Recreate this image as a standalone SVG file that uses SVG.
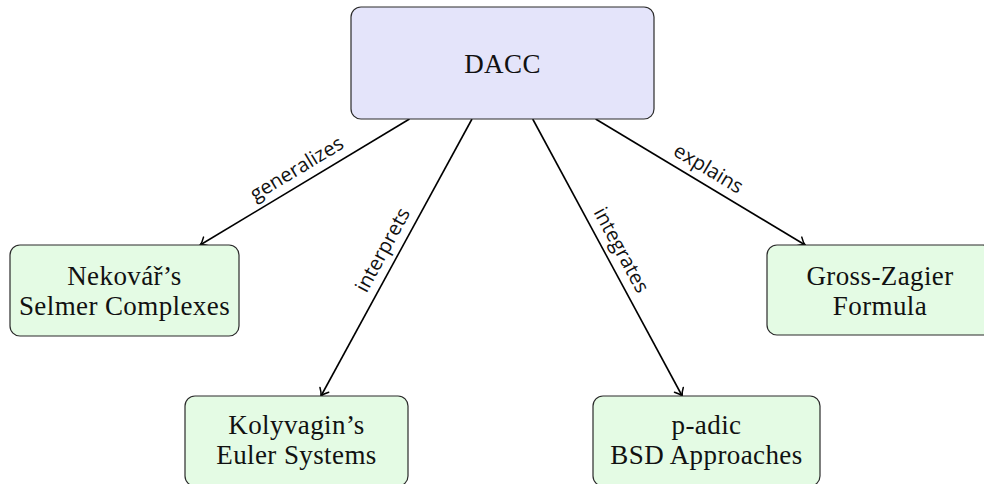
<svg xmlns="http://www.w3.org/2000/svg" width="984" height="484" viewBox="0 0 984 484">
<style>
.box{stroke:#2b2b2b;stroke-width:1.2}
.main{fill:#e4e4fa}
.leaf{fill:#e4fbe4}
.nt{font-family:"Liberation Serif","Times New Roman",serif;font-size:27px;letter-spacing:0.4px;fill:#111;text-anchor:middle}
.edge{stroke:#000;stroke-width:1.6;fill:none;marker-end:url(#arr)}
.lbl{font-family:"Open Sans","Noto Sans",sans-serif;font-size:20px;fill:#111;text-anchor:middle}
</style>
<defs>
<marker id="arr" markerUnits="userSpaceOnUse" markerWidth="20" markerHeight="20" refX="0" refY="0" viewBox="-10 -10 20 20" orient="auto">
<path d="M -7,-5 Q -3,-1 0,0 Q -3,1 -7,5" fill="none" stroke="#000" stroke-width="1.5" stroke-linecap="round"/>
</marker>
</defs>
<g id="edges">
<line class="edge" x1="409.5" y1="119" x2="200.1" y2="245"/>
<line class="edge" x1="472" y1="119" x2="321" y2="396"/>
<line class="edge" x1="532.7" y1="119" x2="682.2" y2="396"/>
<line class="edge" x1="595.6" y1="119" x2="805.2" y2="245"/>
<text class="lbl" transform="translate(304.8,182) rotate(-31.04)" x="0" y="-9">generalizes</text>
<text class="lbl" transform="translate(396.5,257.5) rotate(-61.4)" x="0" y="-9">interprets</text>
<text class="lbl" transform="translate(607.5,257.5) rotate(61.6)" x="0" y="-9">integrates</text>
<text class="lbl" transform="translate(700.4,182) rotate(31.0)" x="0" y="-9">explains</text>
</g>
<g id="dacc">
<rect class="box main" x="351" y="7" width="303" height="112" rx="10"/>
<text class="nt" x="502.5" y="72.5">DACC</text>
</g>
<g id="nekovar">
<rect class="box leaf" x="10" y="245" width="229" height="91" rx="10"/>
<text class="nt" x="124.5" y="285">Nekovář’s</text>
<text class="nt" x="124.5" y="315">Selmer Complexes</text>
</g>
<g id="gross-zagier">
<rect class="box leaf" x="767" y="245" width="226" height="90" rx="10"/>
<text class="nt" x="880" y="284.5">Gross-Zagier</text>
<text class="nt" x="880" y="314.5">Formula</text>
</g>
<g id="kolyvagin">
<rect class="box leaf" x="185" y="396" width="223" height="90" rx="10"/>
<text class="nt" x="296.5" y="434">Kolyvagin’s</text>
<text class="nt" x="296.5" y="464">Euler Systems</text>
</g>
<g id="padic">
<rect class="box leaf" x="593" y="396" width="227" height="90" rx="10"/>
<text class="nt" x="706.5" y="434">p-adic</text>
<text class="nt" x="706.5" y="464">BSD Approaches</text>
</g>
</svg>
